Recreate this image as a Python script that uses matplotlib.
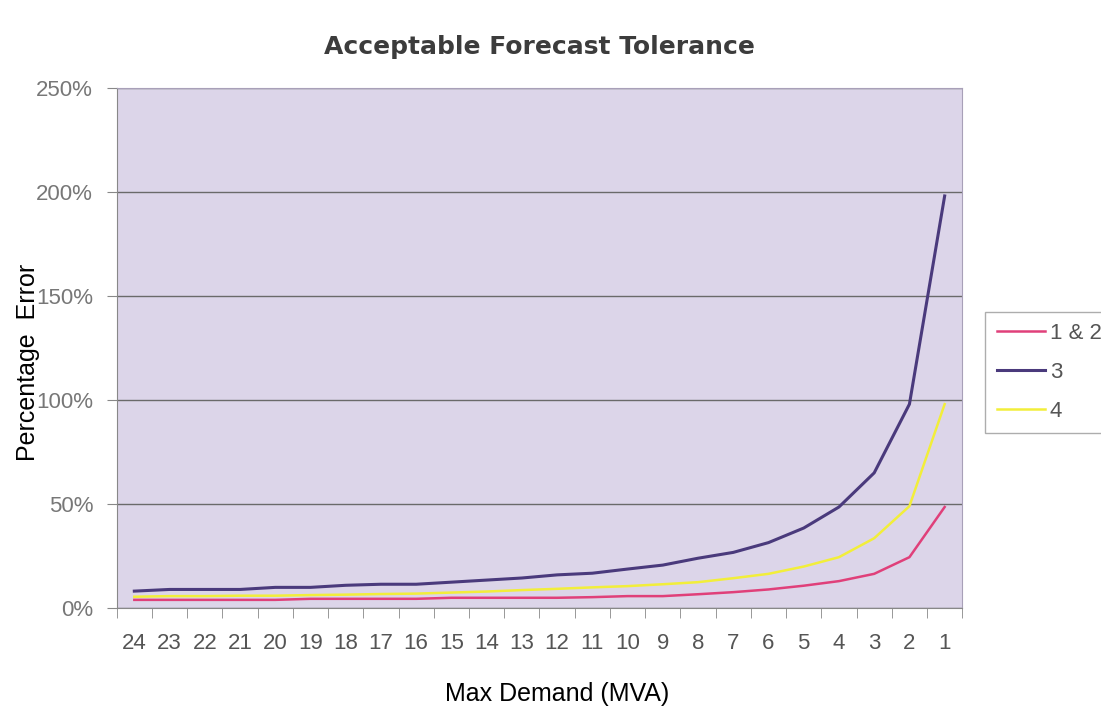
import matplotlib.pyplot as plt
import numpy as np

plt.rcParams['font.family'] = ['Liberation Sans', 'DejaVu Sans']

# max demand categories (MVA), read right to left on the chart
demand = ['24', '23', '22', '21', '20', '19', '18', '17', '16', '15', '14', '13',
          '12', '11', '10', '9', '8', '7', '6', '5', '4', '3', '2', '1']

# percentage error
sec_1_2 = [4, 4, 4, 4, 4, 4.5, 4.5, 4.5, 4.5, 5, 5, 5,
           5, 5.3, 5.8, 5.8, 6.7, 7.7, 9, 10.8, 13, 16.5, 24.5, 48.6]
sec_3 = [8.2, 9, 9, 9, 10, 10, 11, 11.5, 11.5, 12.5, 13.5, 14.5,
         16, 16.8, 18.8, 20.7, 24, 26.8, 31.5, 38.5, 48.6, 65, 98, 198]
sec_4 = [5.5, 5.8, 5.8, 6, 6, 6.3, 6.5, 6.8, 7, 7.5, 8, 8.7,
         9.3, 10, 10.6, 11.5, 12.5, 14.4, 16.5, 20, 24.5, 33.6, 49, 98]

fig = plt.figure(figsize=(11.01, 7.13), dpi=100)
ax = fig.add_axes([0.106, 0.147, 0.768, 0.730])
ax.set_facecolor('#DCD5E9')

x = np.arange(len(demand))
ax.plot(x, sec_1_2, color='#E0407A', lw=1.8, label='1 & 2')
ax.plot(x, sec_3, color='#4A3A7C', lw=2.2, label='3')
ax.plot(x, sec_4, color='#F2EE3A', lw=1.8, label='4')

ax.set_xlim(-0.5, len(demand) - 0.5)
ax.set_ylim(0, 250)
ax.set_yticks([0, 50, 100, 150, 200, 250])
ax.set_yticklabels(['0%', '50%', '100%', '150%', '200%', '250%'])
ax.yaxis.grid(True, color='#6A6A6A', lw=1.0)
ax.set_axisbelow(True)

ax.set_xticks(x)
ax.set_xticklabels(demand)
ax.set_xticks(np.arange(len(demand) + 1) - 0.5, minor=True)
ax.tick_params(axis='x', which='major', length=0, pad=18, labelsize=16, labelcolor='#555555')
ax.tick_params(axis='x', which='minor', length=7, color='#888888')
ax.tick_params(axis='y', length=7, color='#888888', pad=10, labelsize=16, labelcolor='#777777')

for side in ['left', 'bottom']:
    ax.spines[side].set_color('#888888')
for side in ['top', 'right']:
    ax.spines[side].set_color('#A8A0B8')

ax.set_title('Acceptable Forecast Tolerance', fontsize=18, fontweight='bold',
             family='DejaVu Sans', color='#3C3C3C', pad=24)
ax.set_xlabel('Max Demand (MVA)', fontsize=18)
ax.xaxis.set_label_coords(0.521, -0.141)
ax.set_ylabel('Percentage  Error', fontsize=18)
ax.yaxis.set_label_coords(-0.091, 0.473)

fig.legend(loc='upper left', bbox_to_anchor=(0.885, 0.578), frameon=True,
           fancybox=False, edgecolor='#999999', fontsize=16, handlelength=2.2,
           handletextpad=0.2, labelspacing=0.8, borderpad=0.5,
           labelcolor='#555555')

plt.savefig('out.png', dpi=100)
